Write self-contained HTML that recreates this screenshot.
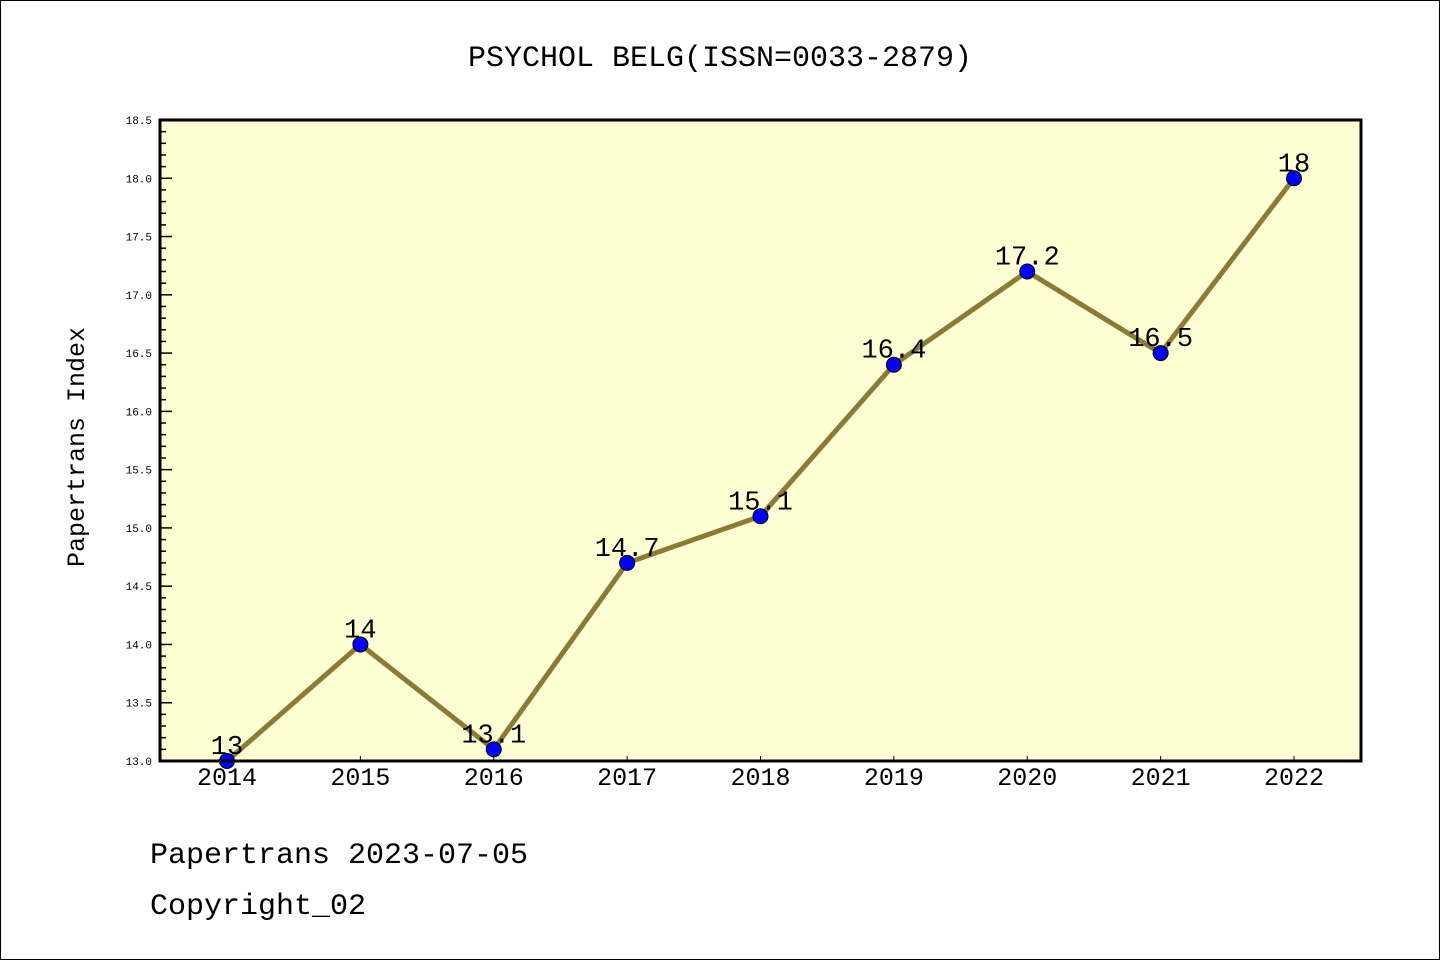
<!DOCTYPE html>
<html><head><meta charset="utf-8"><style>
body{margin:0;background:#fff}
svg text{font-family:"Liberation Mono","DejaVu Sans Mono",monospace}
</style></head><body>
<svg id="c" width="1440" height="960" xmlns="http://www.w3.org/2000/svg">
<rect x="0.5" y="0.5" width="1439" height="959" fill="#fff" stroke="#000"/>
<text x="720" y="66" font-size="30" text-anchor="middle">PSYCHOL BELG(ISSN=0033-2879)</text>
<rect x="160" y="120" width="1201" height="641" fill="#ffffd4"/>
<text transform="translate(84,447) rotate(-90)" font-size="25" text-anchor="middle">Papertrans Index</text>
<text x="150" y="863" font-size="30">Papertrans 2023-07-05</text>
<text x="150" y="914" font-size="30">Copyright_02</text>
<g id="g"></g>
<rect x="160" y="120" width="1201" height="641" fill="none" stroke="#000" stroke-width="3"/>
</svg>
<script>
const years=["2014","2015","2016","2017","2018","2019","2020","2021","2022"];
const values=[13,14,13.1,14.7,15.1,16.4,17.2,16.5,18];
const labels=["13","14","13.1","14.7","15.1","16.4","17.2","16.5","18"];
const yTicks=["13.0","13.5","14.0","14.5","15.0","15.5","16.0","16.5","17.0","17.5","18.0","18.5"];
const NS="http://www.w3.org/2000/svg",gEl=document.getElementById('g');
const yMin=13,yMax=18.5,plotTop=120,plotBot=761;
const X=i=>227+i*(1294-227)/(years.length-1);
const Y=v=>plotBot-(v-yMin)/(yMax-yMin)*(plotBot-plotTop);
function mk(t,a){const e=document.createElementNS(NS,t);for(const k in a)e.setAttribute(k,a[k]);gEl.appendChild(e);return e;}
for(let k=0;k<=55;k++){const v=yMin+k*0.1;const major=k%5===0;
 const l=mk('line',{x1:160,x2:160+(major?12:6),y1:Y(v),y2:Y(v),stroke:'#000','stroke-width':1.5});
 
 }
yTicks.forEach(s=>{const t=mk('text',{x:152,y:Y(+s)+4,'font-size':11,'text-anchor':'end'});t.textContent=s;
 
 });
years.forEach((s,i)=>{const l=mk('line',{x1:X(i),x2:X(i),y1:plotBot,y2:plotBot-5,stroke:'#000','stroke-width':1});
 
 
 const t=mk('text',{x:X(i),y:785,'font-size':25,'text-anchor':'middle'});t.textContent=s;
 
 });
const p=mk('polyline',{points:values.map((v,i)=>X(i)+','+Y(v)).join(' '),fill:'none',stroke:'#8c7a37','stroke-width':5});


values.forEach((v,i)=>{const c=mk('circle',{cx:X(i),cy:Y(v),r:7.5,fill:'#0000ff',stroke:'#000','stroke-width':1});
 
 
 const t=mk('text',{x:X(i),y:Y(v)-7,'font-size':27,'text-anchor':'middle'});t.textContent=labels[i];
 
 });
</script>
</body></html>
